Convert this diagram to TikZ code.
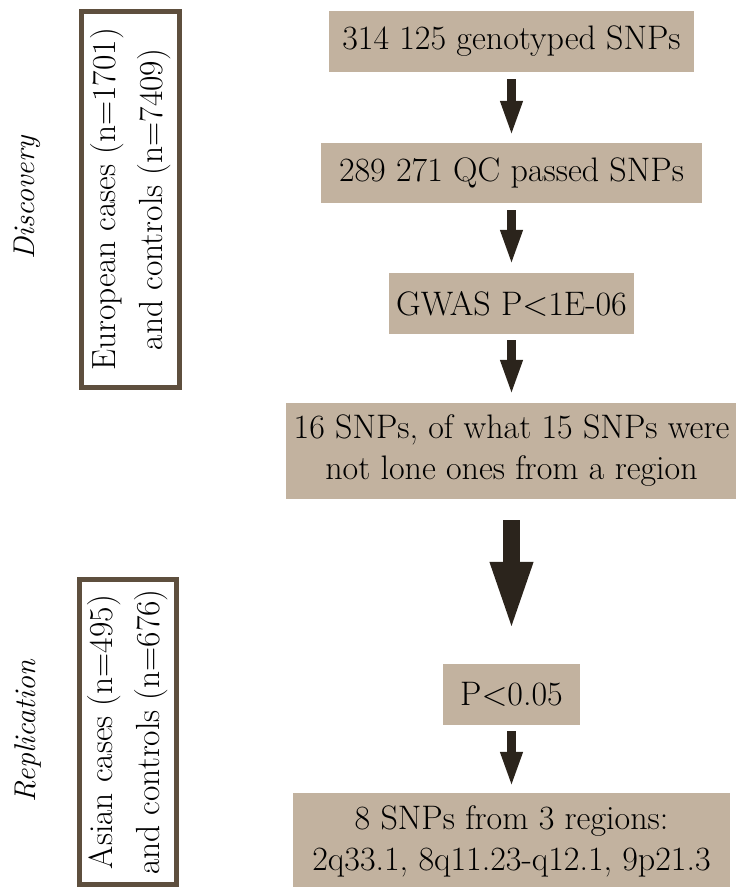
\documentclass[tikz,border=0pt]{standalone}
\usepackage{fontspec}
\usetikzlibrary{arrows.meta}
\definecolor{stagefill}{HTML}{C2B29F}
\definecolor{arrowink}{HTML}{2B241C}
\definecolor{frameink}{HTML}{5E4F3E}
\newcommand{\stagefont}{\fontsize{34}{41}\selectfont}
\newcommand{\cohortfont}{\fontsize{33.5}{47}\selectfont}
\newcommand{\phasefont}{\fontsize{30}{36}\selectfont\itshape}
\tikzset{
  stage/.style={fill=stagefill, inner sep=0pt, align=center, font=\stagefont},
  cohort/.style={draw=frameink, line width=5pt, fill=white, inner sep=0pt,
    rotate=90, align=center, font=\cohortfont},
  phase/.style={rotate=90, font=\phasefont},
  flow/.style={draw=arrowink, line width=9pt, -{Triangle[width=20pt,length=36pt]}},
  bigflow/.style={draw=arrowink, line width=17pt, -{Triangle[width=38pt,length=71pt]}}
}
\begin{document}
\begin{tikzpicture}[x=1pt,y=-1pt]
\useasboundingbox (0,0) rectangle (736,887);

% pipeline stages
\node[stage, minimum width=365, minimum height=61] (b1) at (511.5,41.5) {314 125 genotyped SNPs};
\node[stage, minimum width=381, minimum height=60] (b2) at (511.5,173) {289 271 QC passed SNPs};
\node[stage, minimum width=245, minimum height=61] (b3) at (511.5,303.5) {GWAS P<1E-06};
\node[stage, minimum width=451, minimum height=96] (b4) at (511.5,451) {16 SNPs, of what 15 SNPs were\\not lone ones from a region};
\node[stage, minimum width=137, minimum height=61] (b5) at (511.5,694.5) {P<0.05};
\node[stage, minimum width=437, minimum height=96] (b6) at (511.5,841) {8 SNPs from 3 regions:\\2q33.1, 8q11.23-q12.1, 9p21.3};

% arrows between stages
\draw[flow, shorten <=7pt, shorten >=6pt] (b1.south) -- (b2.north);
\draw[flow, shorten <=7pt, shorten >=7pt] (b2.south) -- (b3.north);
\draw[flow, shorten <=6pt, shorten >=7pt] (b3.south) -- (b4.north);
\draw[bigflow, shorten <=21pt, shorten >=31pt] (b4.south) -- (b5.north);
\draw[flow, shorten <=6pt, shorten >=5pt] (b5.south) -- (b6.north);

% cohorts
\node[cohort, minimum width=376, minimum height=98] (eu) at (130.5,199.5)
  {European cases (n=1701)\\and controls (n=7409)};
\node[cohort, minimum width=305, minimum height=97] (as) at (128,732)
  {Asian cases (n=495)\\and controls (n=676)};

% phase labels
\node[phase] (disc) at (27,198) {Discovery};
\node[phase] (repl) at (28,731) {Replication};
\end{tikzpicture}
\end{document}
